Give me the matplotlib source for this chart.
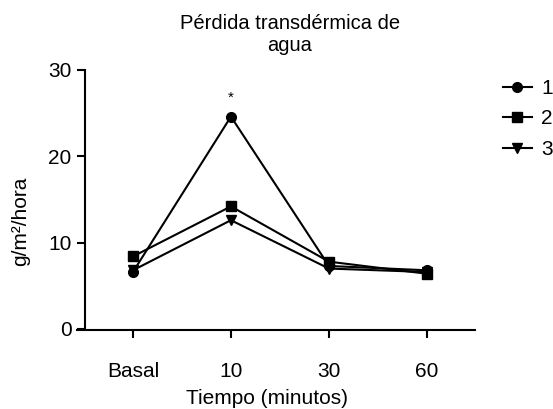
import matplotlib
matplotlib.use("Agg")
import matplotlib.pyplot as plt

plt.rcParams['font.family'] = ['Liberation Sans', 'DejaVu Sans']

categorias = ["Basal", "10", "30", "60"]
serie_1 = [6.6, 24.6, 7.3, 6.8]
serie_2 = [8.4, 14.2, 7.8, 6.4]
serie_3 = [6.8, 12.6, 7.0, 6.6]
nombres = ["1", "2", "3"]
marcadores = ["o", "s", "v"]

fig = plt.figure(figsize=(5.53, 4.09), dpi=100)
ax = fig.add_axes([0.1392, 0.1956, 0.7197, 0.6333])

x = list(range(len(categorias)))
for datos, nombre, m in zip([serie_1, serie_2, serie_3], nombres, marcadores):
    ax.plot(x, datos, marker=m, color='black', lw=1.5, markersize=7, label=nombre)

# asterisco sobre el pico
ax.text(1, 26.8, "*", ha='center', va='center', fontsize=11)

ax.set_xlim(-0.571, 3.49)
ax.set_ylim(0, 30)
ax.spines['top'].set_visible(False)
ax.spines['right'].set_visible(False)
ax.spines['left'].set_position(('data', -0.49))
ax.spines['left'].set_linewidth(1.5)
ax.spines['bottom'].set_linewidth(1.5)
ax.spines['bottom'].set_position(('data', -0.15))

ax.set_xticks(x)
ax.set_xticklabels(categorias)
ax.set_yticks([0, 10, 20, 30])
ax.tick_params(axis='both', labelsize=15, width=1.5, length=6, direction='out')
ax.tick_params(axis='x', pad=17)

fig.text(290 / 553, 1 - 34.5 / 409, "Pérdida transdérmica de\nagua", ha='center', va='center',
         fontsize=14.5, linespacing=1.25)
fig.text(267 / 553, 1 - 399 / 409, "Tiempo (minutos)", ha='center', va='center', fontsize=15)
fig.text(21 / 553, 1 - 221 / 409, "g/m²/hora", ha='center', va='center', rotation=90, fontsize=15)

fig.legend(loc='upper left', bbox_to_anchor=(503 / 553, 1 - 79 / 409), frameon=False,
           fontsize=15, handlelength=1.39, handletextpad=0.43, labelspacing=0.55,
           borderaxespad=0, borderpad=0)

fig.savefig("out.png", dpi=100)
